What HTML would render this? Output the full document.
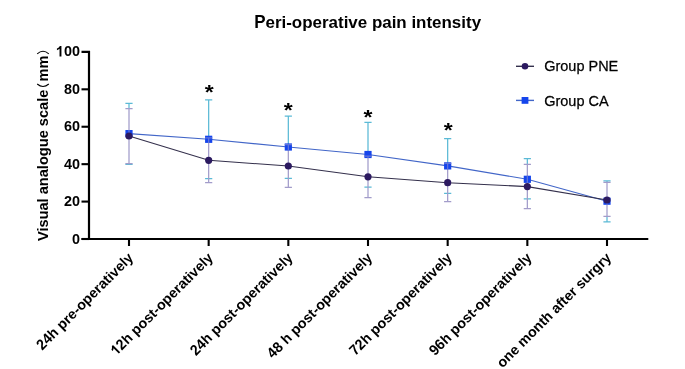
<!DOCTYPE html>
<html><head><meta charset="utf-8"><style>
html,body{margin:0;padding:0;background:#fff;}
svg{display:block;will-change:transform;}
text{font-family:"Liberation Sans",sans-serif;fill:#000;}
.tk{font-size:14.4px;font-weight:bold;}
.title{font-size:16.95px;font-weight:bold;}
.yl{font-size:14.6px;font-weight:bold;}
.xl{font-size:14.2px;font-weight:bold;}
.lg{font-size:14.5px;stroke:#000;stroke-width:0.25px;}
.ast{font-size:23px;font-weight:bold;}
.inv{fill:none;stroke:none;}
</style></head><body>
<svg width="685" height="369" viewBox="0 0 685 369">
<path d="M81.5 51.9H89V239" stroke="#000" stroke-width="2.2" fill="none" stroke-linejoin="miter"/>
<path d="M81.5 239H648.3" stroke="#000" stroke-width="2.2" fill="none"/>
<g transform="translate(79.9 56.4)"><text class="tk" text-anchor="end" xml:space="preserve"><tspan class="inv">100</tspan></text><g transform="scale(1 1.045)"><text class="tk" text-anchor="end" xml:space="preserve"><tspan class="inv">1</tspan>00</text><path transform="translate(-24.017 0) scale(0.007031 -0.007031)" d="M790 0H520V1040C420 950 300 890 150 850V1090C260 1125 360 1185 440 1260C500 1320 540 1370 565 1409H790Z"/></g></g>
<path d="M81.5 89.32H89" stroke="#000" stroke-width="2.1"/>
<g transform="translate(79.9 93.82)"><text class="tk" text-anchor="end" xml:space="preserve"><tspan class="inv">80</tspan></text><g transform="scale(1 1.045)"><text class="tk" text-anchor="end" xml:space="preserve">80</text></g></g>
<path d="M81.5 126.74H89" stroke="#000" stroke-width="2.1"/>
<g transform="translate(79.9 131.24)"><text class="tk" text-anchor="end" xml:space="preserve"><tspan class="inv">60</tspan></text><g transform="scale(1 1.045)"><text class="tk" text-anchor="end" xml:space="preserve">60</text></g></g>
<path d="M81.5 164.16H89" stroke="#000" stroke-width="2.1"/>
<g transform="translate(79.9 168.66)"><text class="tk" text-anchor="end" xml:space="preserve"><tspan class="inv">40</tspan></text><g transform="scale(1 1.045)"><text class="tk" text-anchor="end" xml:space="preserve">40</text></g></g>
<path d="M81.5 201.58H89" stroke="#000" stroke-width="2.1"/>
<g transform="translate(79.9 206.08)"><text class="tk" text-anchor="end" xml:space="preserve"><tspan class="inv">20</tspan></text><g transform="scale(1 1.045)"><text class="tk" text-anchor="end" xml:space="preserve">20</text></g></g>
<path d="M81.5 239H89" stroke="#000" stroke-width="2.1"/>
<g transform="translate(79.9 243.5)"><text class="tk" text-anchor="end" xml:space="preserve"><tspan class="inv">0</tspan></text><g transform="scale(1 1.045)"><text class="tk" text-anchor="end" xml:space="preserve">0</text></g></g>
<path d="M129 239V246" stroke="#000" stroke-width="2.1"/>
<path d="M208.67 239V246" stroke="#000" stroke-width="2.1"/>
<path d="M288.33 239V246" stroke="#000" stroke-width="2.1"/>
<path d="M368 239V246" stroke="#000" stroke-width="2.1"/>
<path d="M447.67 239V246" stroke="#000" stroke-width="2.1"/>
<path d="M527.34 239V246" stroke="#000" stroke-width="2.1"/>
<path d="M607 239V246" stroke="#000" stroke-width="2.1"/>
<path d="M129 103.4V108.5M129 163.5V164.4M125.4 103.4H132.6M125.4 164.4H132.6" stroke="#5bbad6" stroke-width="1.25" fill="none"/>
<path d="M208.67 99.9V137.9M205.07 99.9H212.27M205.07 178.7H212.27" stroke="#5bbad6" stroke-width="1.25" fill="none"/>
<path d="M288.33 116V144.6M284.73 116H291.93M284.73 178.4H291.93" stroke="#5bbad6" stroke-width="1.25" fill="none"/>
<path d="M368 122.3V156.2M364.4 122.3H371.6M364.4 187.1H371.6" stroke="#5bbad6" stroke-width="1.25" fill="none"/>
<path d="M447.67 138.5V163.3M444.07 138.5H451.27M444.07 193.3H451.27" stroke="#5bbad6" stroke-width="1.25" fill="none"/>
<path d="M527.34 158.5V164.3M523.74 158.5H530.94M523.74 198.8H530.94" stroke="#5bbad6" stroke-width="1.25" fill="none"/>
<path d="M607 180.8V182.3M607 216.4V221.8M603.4 180.8H610.6M603.4 221.8H610.6" stroke="#5bbad6" stroke-width="1.25" fill="none"/>
<path d="M129 108.5V163.5M125.4 108.5H132.6M125.4 163.5H132.6" stroke="#a29cca" stroke-width="1.25" fill="none"/>
<path d="M208.67 137.9V182.5M205.07 137.9H212.27M205.07 182.5H212.27" stroke="#a29cca" stroke-width="1.25" fill="none"/>
<path d="M288.33 144.6V187.3M284.73 144.6H291.93M284.73 187.3H291.93" stroke="#a29cca" stroke-width="1.25" fill="none"/>
<path d="M368 156.2V197.6M364.4 156.2H371.6M364.4 197.6H371.6" stroke="#a29cca" stroke-width="1.25" fill="none"/>
<path d="M447.67 163.3V201.5M444.07 163.3H451.27M444.07 201.5H451.27" stroke="#a29cca" stroke-width="1.25" fill="none"/>
<path d="M527.34 164.3V208.5M523.74 164.3H530.94M523.74 208.5H530.94" stroke="#a29cca" stroke-width="1.25" fill="none"/>
<path d="M607 182.3V216.4M603.4 182.3H610.6M603.4 216.4H610.6" stroke="#a29cca" stroke-width="1.25" fill="none"/>
<polyline points="129,133.6 208.67,139.3 288.33,147 368,154.5 447.67,165.9 527.34,179.3 607,201.2" stroke="#4266c8" stroke-width="1.12" fill="none"/>
<rect x="125.4" y="130" width="7.2" height="7.2" fill="#1545ec"/>
<rect x="205.07" y="135.7" width="7.2" height="7.2" fill="#1545ec"/>
<rect x="284.73" y="143.4" width="7.2" height="7.2" fill="#1545ec"/>
<rect x="364.4" y="150.9" width="7.2" height="7.2" fill="#1545ec"/>
<rect x="444.07" y="162.3" width="7.2" height="7.2" fill="#1545ec"/>
<rect x="523.74" y="175.7" width="7.2" height="7.2" fill="#1545ec"/>
<rect x="603.4" y="197.6" width="7.2" height="7.2" fill="#1545ec"/>
<clipPath id="sq"><rect x="125.4" y="130" width="7.2" height="7.2"/><rect x="205.07" y="135.7" width="7.2" height="7.2"/><rect x="284.73" y="143.4" width="7.2" height="7.2"/><rect x="364.4" y="150.9" width="7.2" height="7.2"/><rect x="444.07" y="162.3" width="7.2" height="7.2"/><rect x="523.74" y="175.7" width="7.2" height="7.2"/><rect x="603.4" y="197.6" width="7.2" height="7.2"/></clipPath><g clip-path="url(#sq)" opacity="0.55">
<path d="M129 108.5V163.5M125.4 108.5H132.6M125.4 163.5H132.6" stroke="#a29cca" stroke-width="1.25" fill="none"/>
<path d="M208.67 137.9V182.5M205.07 137.9H212.27M205.07 182.5H212.27" stroke="#a29cca" stroke-width="1.25" fill="none"/>
<path d="M288.33 144.6V187.3M284.73 144.6H291.93M284.73 187.3H291.93" stroke="#a29cca" stroke-width="1.25" fill="none"/>
<path d="M368 156.2V197.6M364.4 156.2H371.6M364.4 197.6H371.6" stroke="#a29cca" stroke-width="1.25" fill="none"/>
<path d="M447.67 163.3V201.5M444.07 163.3H451.27M444.07 201.5H451.27" stroke="#a29cca" stroke-width="1.25" fill="none"/>
<path d="M527.34 164.3V208.5M523.74 164.3H530.94M523.74 208.5H530.94" stroke="#a29cca" stroke-width="1.25" fill="none"/>
<path d="M607 182.3V216.4M603.4 182.3H610.6M603.4 216.4H610.6" stroke="#a29cca" stroke-width="1.25" fill="none"/>
</g>
<polyline points="129,136 208.67,160.3 288.33,166 368,176.8 447.67,182.7 527.34,186.6 607,200" stroke="#34304c" stroke-width="1.12" fill="none"/>
<circle cx="129" cy="136" r="3.6" fill="#2c1a60"/>
<circle cx="208.67" cy="160.3" r="3.6" fill="#2c1a60"/>
<circle cx="288.33" cy="166" r="3.6" fill="#2c1a60"/>
<circle cx="368" cy="176.8" r="3.6" fill="#2c1a60"/>
<circle cx="447.67" cy="182.7" r="3.6" fill="#2c1a60"/>
<circle cx="527.34" cy="186.6" r="3.6" fill="#2c1a60"/>
<circle cx="607" cy="200" r="3.6" fill="#2c1a60"/>
<text transform="translate(209.2 88) scale(1 0.9)" y="12.25" text-anchor="middle" class="ast">*</text>
<text transform="translate(288.3 105.9) scale(1 0.9)" y="12.25" text-anchor="middle" class="ast">*</text>
<text transform="translate(368 113) scale(1 0.9)" y="12.25" text-anchor="middle" class="ast">*</text>
<text transform="translate(448.3 125.8) scale(1 0.9)" y="12.25" text-anchor="middle" class="ast">*</text>
<g transform="translate(254.2 27.6)"><text class="title" xml:space="preserve"><tspan class="inv">P</tspan>eri-operative pain intensity</text><g transform="scale(1 1.06)"><text class="title" xml:space="preserve">P<tspan class="inv">eri-operative pain intensity</tspan></text></g></g>
<g transform="translate(47.8 241.1) rotate(-90)"><text class="yl" xml:space="preserve"><tspan class="inv">V</tspan>isual analogue scale</text><g transform="scale(1 1.06)"><text class="yl" xml:space="preserve">V<tspan class="inv">isual analogue scale</tspan></text></g></g>
<g transform="translate(47.8 81.6) rotate(-90)"><text x="0" y="0" class="yl">mm</text></g>
<path d="M37.2 84Q43 89 48.8 84" stroke="#000" stroke-width="1.1" fill="none"/>
<path d="M37.2 53.8Q43 48.8 48.8 53.8" stroke="#000" stroke-width="1.1" fill="none"/>
<g transform="translate(134.2 258.6) rotate(-45)"><text class="xl" text-anchor="end" xml:space="preserve"><tspan class="inv">24</tspan>h pre-operatively</text><g transform="scale(1 1.045)"><text class="xl" text-anchor="end" xml:space="preserve">24<tspan class="inv">h pre-operatively</tspan></text></g></g>
<g transform="translate(213.87 258.6) rotate(-45)"><text class="xl" text-anchor="end" xml:space="preserve"><tspan class="inv">12</tspan>h post-operatively</text><g transform="scale(1 1.045)"><text class="xl" text-anchor="end" xml:space="preserve"><tspan class="inv">1</tspan>2<tspan class="inv">h post-operatively</tspan></text><path transform="translate(-137.984 0) scale(0.006934 -0.006934)" d="M790 0H520V1040C420 950 300 890 150 850V1090C260 1125 360 1185 440 1260C500 1320 540 1370 565 1409H790Z"/></g></g>
<g transform="translate(293.53 258.6) rotate(-45)"><text class="xl" text-anchor="end" xml:space="preserve"><tspan class="inv">24</tspan>h post-operatively</text><g transform="scale(1 1.045)"><text class="xl" text-anchor="end" xml:space="preserve">24<tspan class="inv">h post-operatively</tspan></text></g></g>
<g transform="translate(373.2 258.6) rotate(-45)"><text class="xl" text-anchor="end" xml:space="preserve"><tspan class="inv">48 </tspan>h post-operatively</text><g transform="scale(1 1.045)"><text class="xl" text-anchor="end" xml:space="preserve">48 <tspan class="inv">h post-operatively</tspan></text></g></g>
<g transform="translate(452.87 258.6) rotate(-45)"><text class="xl" text-anchor="end" xml:space="preserve"><tspan class="inv">72</tspan>h post-operatively</text><g transform="scale(1 1.045)"><text class="xl" text-anchor="end" xml:space="preserve">72<tspan class="inv">h post-operatively</tspan></text></g></g>
<g transform="translate(532.54 258.6) rotate(-45)"><text class="xl" text-anchor="end" xml:space="preserve"><tspan class="inv">96</tspan>h post-operatively</text><g transform="scale(1 1.045)"><text class="xl" text-anchor="end" xml:space="preserve">96<tspan class="inv">h post-operatively</tspan></text></g></g>
<g transform="translate(612.2 258.6) rotate(-45)"><text class="xl" text-anchor="end" xml:space="preserve">one month after surgry</text><g transform="scale(1 1.045)"><text class="xl" text-anchor="end" xml:space="preserve"><tspan class="inv">one month after surgry</tspan></text></g></g>
<path d="M516 66.3H534" stroke="#34304c" stroke-width="1.4"/>
<circle cx="525" cy="66.3" r="3.3" fill="#2c1a60"/>
<path d="M516 100.4H534" stroke="#4266c8" stroke-width="1.4"/>
<rect x="521.6" y="97" width="6.8" height="6.8" fill="#1545ec"/>
<g transform="translate(544.2 71.4)"><text class="lg" xml:space="preserve"><tspan class="inv">G</tspan>roup <tspan class="inv">PNE</tspan></text><g transform="scale(1 1.045)"><text class="lg" xml:space="preserve">G<tspan class="inv">roup </tspan>PNE</text></g></g>
<g transform="translate(544.2 105.5)"><text class="lg" xml:space="preserve"><tspan class="inv">G</tspan>roup <tspan class="inv">CA</tspan></text><g transform="scale(1 1.045)"><text class="lg" xml:space="preserve">G<tspan class="inv">roup </tspan>CA</text></g></g>
</svg>
</body></html>
